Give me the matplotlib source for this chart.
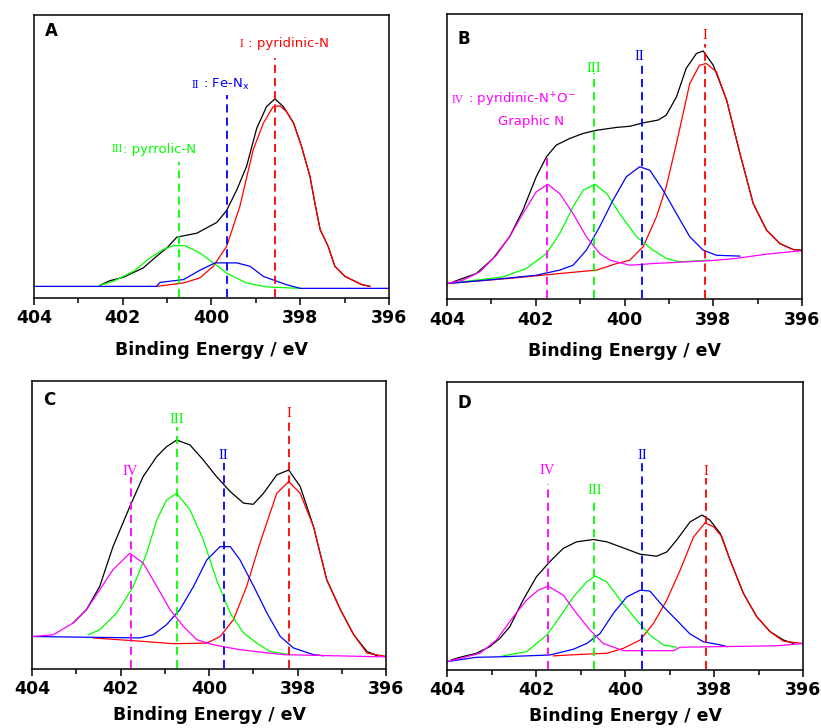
import matplotlib
matplotlib.use('Agg')
import matplotlib.pyplot as plt
import numpy as np

plt.rcParams['font.family'] = ['DejaVu Sans']
plt.rcParams['mathtext.fontset'] = 'custom'
plt.rcParams['mathtext.rm'] = 'DejaVu Sans'

# x: binding energy (eV), y: intensity (a.u., 0-100 of the axis height)
# ---- panel A ----
A_total = [(402.51, 4.5), (402.29, 6.1), (401.99, 7.3), (401.54, 10.6), (401.24, 14.7), (401.01, 17.6),
           (400.78, 21.5), (400.33, 22.9), (399.88, 26.7), (399.66, 30.9), (399.43, 38.2), (399.21, 46.5),
           (398.98, 60.0), (398.76, 67.6), (398.57, 70.4), (398.38, 67.6), (398.15, 61.8), (397.97, 53.5),
           (397.78, 42.9), (397.67, 33.5), (397.55, 24.1), (397.37, 18.2), (397.22, 11.2), (396.99, 7.6),
           (396.61, 4.7), (396.43, 4.1)]
A_I = [(401.24, 4.1), (400.63, 5.3), (400.26, 7.1), (399.96, 11.2), (399.66, 18.2), (399.36, 32.4),
       (399.06, 52.4), (398.83, 61.8), (398.61, 67.6), (398.46, 67.9), (398.31, 65.9), (398.15, 61.8),
       (397.97, 53.5), (397.78, 42.9), (397.67, 33.5), (397.55, 24.1), (397.37, 18.2), (397.22, 11.2),
       (396.99, 7.6), (396.61, 4.7), (396.43, 4.1)]
A_II = [(404.0, 4.1), (401.24, 4.1), (401.16, 5.5), (400.63, 6.5), (400.26, 9.8), (399.92, 12.4),
        (399.43, 12.4), (399.13, 11.2), (398.83, 7.6), (398.31, 4.7), (398.00, 3.4), (396.00, 3.4)]
A_III = [(402.51, 4.5), (402.21, 5.9), (401.76, 9.4), (401.39, 14.1), (401.09, 17.1), (400.86, 18.5),
         (400.60, 18.5), (400.26, 15.9), (399.96, 12.4), (399.66, 8.8), (399.21, 5.3), (398.76, 3.9),
         (398.00, 3.4)]

# ---- panel B ----
B_total = [(403.86, 6.2), (403.34, 9.1), (402.96, 14.4), (402.59, 22.0), (402.29, 31.3), (401.99, 43.0),
           (401.76, 50.0), (401.54, 54.1), (401.24, 56.4), (400.93, 58.2), (400.63, 59.3), (400.18, 60.3),
           (399.88, 60.7), (399.58, 61.9), (399.24, 62.9), (399.06, 64.6), (398.83, 71.0), (398.61, 81.0),
           (398.38, 86.2), (398.23, 87.1), (398.00, 82.1), (397.70, 69.9), (397.40, 51.2), (397.10, 33.6),
           (396.80, 24.3), (396.50, 19.6), (396.20, 17.5), (396.00, 17.3)]
B_I = [(404.0, 5.6), (402.59, 7.4), (401.46, 9.1), (400.63, 10.3), (400.18, 12.6), (399.88, 13.8),
       (399.58, 18.5), (399.28, 29.0), (399.06, 39.5), (398.83, 54.7), (398.53, 75.7), (398.31, 82.1),
       (398.16, 82.7), (397.93, 79.8), (397.70, 69.9), (397.40, 51.2), (397.10, 33.6), (396.80, 24.3),
       (396.50, 19.6), (396.20, 17.5), (396.00, 17.1)]
B_II = [(404.0, 5.6), (402.96, 7.0), (401.99, 8.5), (401.46, 10.3), (401.16, 12.0), (400.86, 17.3),
        (400.56, 25.5), (400.26, 34.8), (399.96, 43.0), (399.66, 46.5), (399.43, 45.3), (399.13, 38.3),
        (398.83, 30.1), (398.53, 22.0), (398.23, 17.3), (397.93, 15.5), (397.40, 15.2)]
B_III = [(404.0, 5.6), (402.74, 7.9), (402.21, 10.9), (401.76, 16.1), (401.46, 23.1), (401.16, 32.5),
         (400.93, 38.3), (400.67, 40.4), (400.40, 37.1), (400.11, 30.1), (399.73, 22.0), (399.36, 17.3),
         (399.06, 14.4), (398.76, 13.2), (398.08, 13.8)]
B_IV = [(404.0, 5.6), (403.64, 6.8), (403.26, 9.7), (402.89, 15.5), (402.59, 22.0), (402.29, 30.1),
        (401.99, 37.7), (401.73, 40.4), (401.46, 37.1), (401.16, 30.1), (400.86, 22.0), (400.56, 16.1),
        (400.33, 13.8), (399.88, 12.0), (399.36, 12.6), (398.08, 13.6), (397.48, 14.4), (396.80, 15.9),
        (396.00, 17.1)]

# ---- panel C ----
C_total = [(403.07, 16.0), (402.77, 20.6), (402.47, 28.7), (402.17, 42.5), (401.79, 56.4), (401.49, 66.8),
           (401.18, 73.8), (400.96, 77.2), (400.73, 79.5), (400.43, 77.8), (400.13, 72.6), (399.83, 66.8),
           (399.52, 61.6), (399.22, 57.6), (399.00, 57.2), (398.77, 61.0), (398.47, 67.4), (398.20, 69.1),
           (397.94, 63.4), (397.64, 49.5), (397.34, 31.0), (397.03, 20.6), (396.73, 11.9), (396.43, 6.1),
           (396.20, 4.6)]
C_I = [(402.62, 10.8), (401.49, 9.6), (400.81, 8.8), (400.05, 9.0), (399.75, 11.3), (399.45, 17.1),
       (399.15, 28.7), (398.85, 43.7), (398.47, 61.0), (398.20, 65.1), (397.94, 61.0), (397.64, 49.5),
       (397.34, 31.0), (397.03, 20.6), (396.73, 11.9), (396.43, 5.5), (396.00, 4.4)]
C_II = [(404.0, 11.3), (401.56, 10.8), (401.26, 11.9), (400.96, 15.4), (400.66, 20.6), (400.35, 28.7),
        (400.05, 37.9), (399.75, 42.5), (399.52, 42.5), (399.30, 37.9), (398.99, 28.7), (398.69, 19.4),
        (398.39, 11.3), (398.09, 7.3), (397.64, 5.0), (397.41, 4.6)]
C_III = [(402.73, 11.9), (402.47, 13.6), (402.09, 19.4), (401.71, 28.7), (401.41, 40.2), (401.18, 51.8),
         (400.96, 58.7), (400.73, 61.0), (400.43, 55.3), (400.13, 44.9), (399.83, 31.0), (399.52, 19.4),
         (399.22, 12.5), (398.92, 9.0), (398.62, 6.1), (398.17, 5.0)]
C_IV = [(404.0, 11.3), (403.52, 11.9), (403.07, 16.0), (402.77, 20.6), (402.47, 27.5), (402.17, 34.5),
        (401.79, 40.2), (401.49, 36.8), (401.18, 28.7), (400.88, 20.6), (400.58, 14.8), (400.28, 10.2),
        (399.90, 8.4), (399.30, 6.7), (398.32, 5.0), (396.00, 4.2)]

# ---- panel D ----
D_total = [(403.90, 3.5), (403.71, 4.4), (403.34, 5.8), (403.04, 8.1), (402.81, 11.0), (402.59, 15.0),
           (402.29, 24.3), (401.99, 32.4), (401.69, 37.6), (401.39, 42.2), (401.09, 44.5), (400.71, 45.3),
           (400.41, 44.5), (400.11, 42.8), (399.66, 40.2), (399.29, 39.5), (399.06, 41.0), (398.84, 45.1),
           (398.54, 51.4), (398.27, 53.8), (398.09, 52.0), (397.86, 47.4), (397.64, 38.2), (397.34, 26.6),
           (397.04, 18.5), (396.74, 13.3), (396.44, 10.4), (396.21, 9.2)]
D_I = [(401.61, 4.9), (401.01, 5.4), (400.41, 5.8), (400.04, 7.5), (399.66, 10.4), (399.36, 16.2),
       (399.06, 24.3), (398.76, 34.7), (398.46, 46.2), (398.20, 51.1), (398.01, 49.7), (397.82, 46.2),
       (397.64, 38.2), (397.34, 26.6), (397.04, 18.5), (396.74, 13.3), (396.44, 10.0), (396.00, 9.2)]
D_II = [(404.0, 2.9), (403.34, 4.4), (402.74, 4.6), (401.69, 5.2), (401.16, 7.2), (400.86, 9.2),
        (400.56, 12.7), (400.26, 19.7), (399.96, 25.4), (399.66, 27.7), (399.44, 27.4), (399.14, 22.0),
        (398.84, 17.3), (398.54, 12.5), (398.24, 9.8), (397.86, 8.7), (397.71, 8.1)]
D_III = [(402.74, 4.9), (402.21, 6.4), (401.76, 12.1), (401.46, 18.5), (401.16, 25.4), (400.86, 30.6),
         (400.67, 32.6), (400.41, 30.6), (400.11, 24.3), (399.74, 17.3), (399.44, 12.1), (399.14, 8.7),
         (398.84, 7.9)]
D_IV = [(404.0, 2.9), (403.71, 4.0), (403.26, 5.8), (402.89, 10.4), (402.51, 18.5), (402.21, 24.3),
        (401.95, 27.7), (401.73, 29.1), (401.39, 26.0), (401.09, 19.7), (400.79, 13.9), (400.49, 9.2),
        (400.04, 6.7), (398.91, 6.7), (398.76, 7.9), (396.58, 8.4), (396.00, 9.2)]

# peak centres (eV) for the dashed markers: I, II, III, IV
A_peaks = [398.56, 399.64, 400.73]
B_peaks = [398.18, 399.60, 400.69, 401.74]
C_peaks = [398.19, 399.67, 400.73, 401.77]
D_peaks = [398.18, 399.61, 400.69, 401.74]

colors = {'I': '#ff0000', 'II': '#0000ff', 'III': '#00ff00', 'IV': '#ff00ff'}
names = ['I', 'II', 'III', 'IV']

fig = plt.figure(figsize=(8.21, 7.28), dpi=100)
axA = fig.add_axes([0.0414, 0.5907, 0.4324, 0.3887])
axB = fig.add_axes([0.5445, 0.5886, 0.4324, 0.3920])
axC = fig.add_axes([0.0390, 0.0810, 0.4312, 0.3956])
axD = fig.add_axes([0.5445, 0.0797, 0.4336, 0.3956])


def style(ax, letter, ly, lpad=10):
    ax.set_xlim(404, 396)
    ax.set_ylim(0, 100)
    ax.set_xticks([404, 402, 400, 398, 396])
    ax.set_xticks([403, 401, 399, 397], minor=True)
    ax.set_yticks([])
    ax.tick_params(axis='x', which='major', direction='out', length=5, width=1.1, pad=3)
    ax.tick_params(axis='x', which='minor', direction='out', length=3.5, width=1.1)
    for lab in ax.get_xticklabels():
        lab.set_fontsize(12.5)
        lab.set_fontweight('bold')
    for sp in ax.spines.values():
        sp.set_linewidth(1.1)
    ax.set_xlabel('Binding Energy / eV', fontsize=12.5, fontweight='bold', labelpad=lpad)
    ax.text(0.03, ly, letter, transform=ax.transAxes, fontsize=12, fontweight='bold',
            ha='left', va='center')


def curves(ax, total, comps):
    x, y = zip(*total)
    ax.plot(x, y, color='black', lw=0.9)
    for key in ['I', 'III', 'II', 'IV']:
        if key in comps:
            x, y = zip(*comps[key])
            ax.plot(x, y, color=colors[key], lw=0.9)


def marker(ax, xp, top, key):
    ax.plot([xp, xp], [0.5, top], color=colors[key], lw=1.3, dashes=(4.5, 2.8))


def numeral(ax, xp, yp, key, size=10.5):
    ax.text(xp, yp, key, color=colors[key], fontsize=size, family='Liberation Serif',
            ha='center', va='center')


def tagged(ax, xp, yp, key, rest):
    t = ax.text(xp, yp, key, color=colors[key], fontsize=8.5, family='Liberation Serif',
                ha='left', va='center')
    ax.annotate(rest, xy=(1, 0.5), xycoords=t, color=colors[key], fontsize=9.5,
                ha='left', va='center')


# A
curves(axA, A_total, {'I': A_I, 'II': A_II, 'III': A_III})
for xp, top, key in zip(A_peaks, [84.7, 71.8, 48.2], names):
    marker(axA, xp, top, key)
tagged(axA, 399.36, 89.8, 'I', ' : pyridinic-N')
tagged(axA, 400.45, 75.3, 'II', ' : Fe-N$_\\mathrm{x}$')
tagged(axA, 402.25, 52.6, 'III', ': pyrrolic-N')
style(axA, 'A', 0.943)

# B
curves(axB, B_total, {'I': B_I, 'II': B_II, 'III': B_III, 'IV': B_IV})
for xp, top, key in zip(B_peaks, [89.7, 82.7, 79.2, 50.6], names):
    marker(axB, xp, top, key)
numeral(axB, 398.18, 92.6, 'I')
numeral(axB, 399.66, 85.0, 'II')
numeral(axB, 400.69, 81.0, 'III')
tagged(axB, 403.89, 69.9, 'IV', ' : pyridinic-N$^{+}$O$^{-}$')
axB.text(402.10, 62.3, 'Graphic N', color=colors['IV'], fontsize=9.5, ha='center', va='center')
style(axB, 'B', 0.912)

# C
curves(axC, C_total, {'I': C_I, 'II': C_II, 'III': C_III, 'IV': C_IV})
for xp, top, key in zip(C_peaks, [86.5, 71.4, 84.2, 66.8], names):
    marker(axC, xp, top, key)
for xp, yp, key in zip(C_peaks, [88.8, 74.3, 86.5, 68.6], names):
    numeral(axC, xp, yp, key)
style(axC, 'C', 0.934, lpad=6)

# D
curves(axD, D_total, {'I': D_I, 'II': D_II, 'III': D_III, 'IV': D_IV})
for xp, top, key in zip(D_peaks, [66.5, 71.7, 59.0, 64.7], names):
    marker(axD, xp, top, key)
for xp, yp, key in zip(D_peaks, [68.8, 74.6, 62.4, 69.4], names):
    numeral(axD, xp, yp, key)
style(axD, 'D', 0.927, lpad=6)

fig.savefig('out.png', dpi=100)
